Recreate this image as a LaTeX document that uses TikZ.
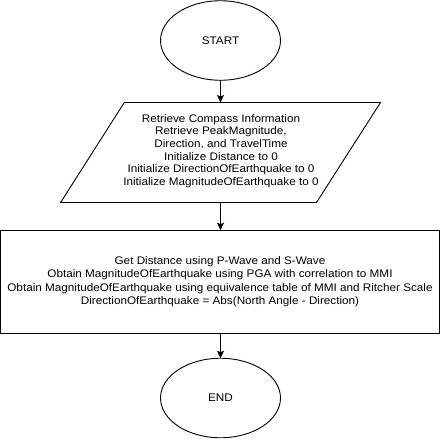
\documentclass[tikz,border=0pt]{standalone}
\usepackage{fontspec}
\setmainfont{Liberation Sans}[FakeStretch=1.065]
\usetikzlibrary{arrows.meta,shapes.geometric}
\begin{document}
\begin{tikzpicture}[x=1pt,y=-1pt,
  every node/.style={inner sep=0pt, outer sep=0pt, align=center},
  txtA/.style={font=\fontsize{11}{12.7}\selectfont},
  txtB/.style={font=\fontsize{11}{13.3}\selectfont},
  term/.style={draw, ellipse, line width=0.9pt, minimum width=120pt, minimum height=79.5pt, txtA},
  outline/.style={draw, line width=0.9pt},
  procbox/.style={draw, rectangle, line width=0.9pt, minimum width=438.6pt, minimum height=103pt, txtB},
  flow/.style={line width=0.9pt, -{Stealth[length=7.5pt,width=7pt,inset=1.5pt]}}]
\useasboundingbox (0,0) rectangle (441,439);
\node[term] (start) at (220.5,40.5) {START};
% parallelogram (input/output)
\coordinate (inTL) at (124.3,102.5);
\coordinate (inTR) at (380.5,102.5);
\coordinate (inBR) at (316.5,202.5);
\coordinate (inBL) at (60.6,202.5);
\draw[outline] (inTL) -- (inTR) -- (inBR) -- (inBL) -- cycle;
\coordinate (inTop) at (220.5,102.5);
\coordinate (inBot) at (220.5,202.5);
\node[txtA] (input) at (221,151) {Retrieve Compass Information\\Retrieve PeakMagnitude,\\Direction, and TravelTime\\Initialize Distance to 0\\Initialize DirectionOfEarthquake to 0\\Initialize MagnitudeOfEarthquake to 0};
\node[procbox] (proc) at (220,281.7) {Get Distance using P-Wave and S-Wave\\Obtain MagnitudeOfEarthquake using PGA with correlation to MMI\\Obtain MagnitudeOfEarthquake using equivalence table of MMI and Ritcher Scale\\DirectionOfEarthquake = Abs(North Angle - Direction)};
\node[term] (stop) at (220.5,398) {END};
\draw[flow] (start.south) -- (inTop);
\draw[flow] (inBot) -- (inBot |- proc.north);
\draw[flow] (start.south |- proc.south) -- (stop.north);
\end{tikzpicture}
\end{document}
